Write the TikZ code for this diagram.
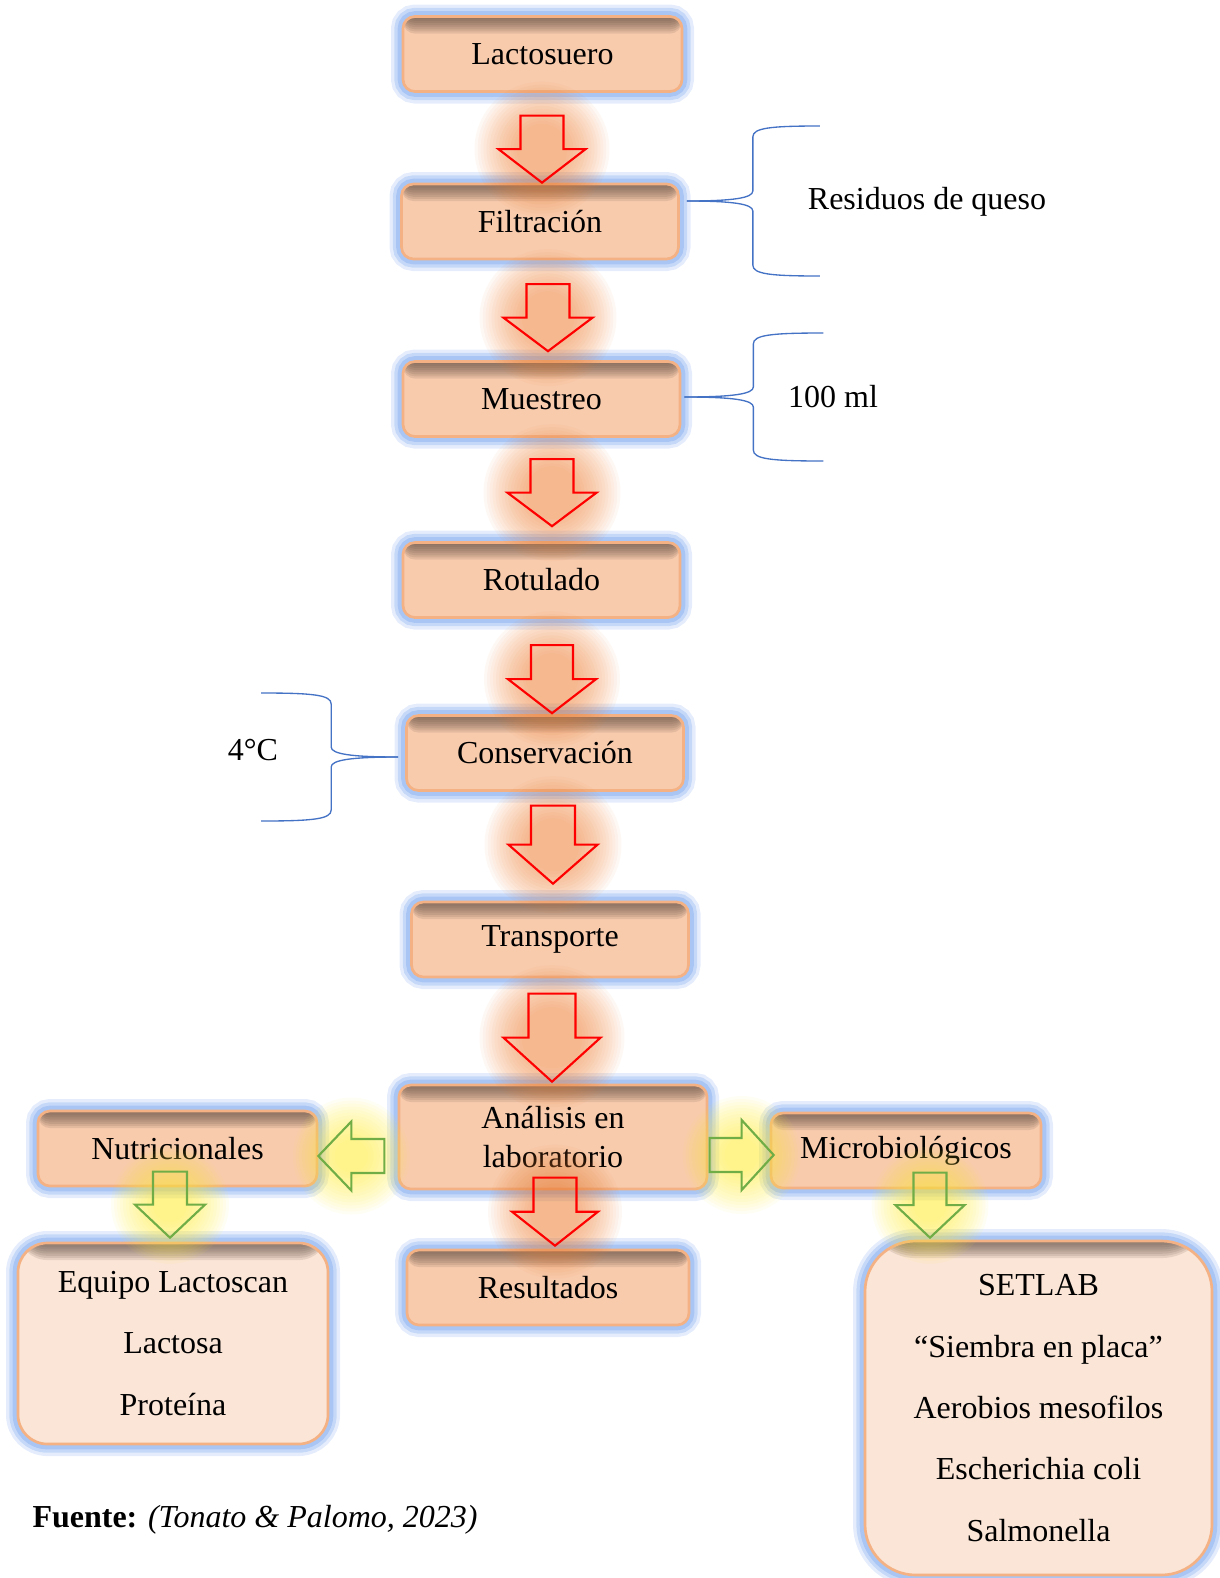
\documentclass[tikz,border=0pt]{standalone}
\usepackage{fontspec}
\setmainfont{Liberation Serif}
\usetikzlibrary{calc}

\definecolor{durazno}{HTML}{F8CBAD}
\definecolor{duraznoClaro}{HTML}{FBE5D6}
\definecolor{bordeNaranja}{HTML}{F4B183}
\definecolor{brilloAzul}{HTML}{96B8F2}
\definecolor{sombraCaja}{HTML}{5E4A40}
\definecolor{brilloNaranja}{HTML}{ED7D31}
\definecolor{brilloAmarillo}{HTML}{FFEB3C}
\definecolor{verdeFlecha}{HTML}{70AD47}
\definecolor{azulLlave}{HTML}{4472C4}

% one pixel of the layout
\def\px{0.375pt}

\tikzset{
  caja/.style={rectangle, rounded corners=4.5pt, draw=bordeNaranja, line width=1pt, fill=#1,
    minimum width=277*\px, minimum height=75*\px, inner sep=0pt, align=center,
    font=\fontsize{12}{14.4}\selectfont,
    preaction={draw=brilloAzul, line width=9pt, opacity=.25},
    preaction={draw=brilloAzul, line width=6.5pt, opacity=.4},
    preaction={draw=brilloAzul, line width=4pt, opacity=.6},
    path picture={\foreach \h in {1,...,8}
      \fill[sombraCaja, opacity=.13] (path picture bounding box.north west)
        rectangle ([yshift=-0.8*\h pt]path picture bounding box.north east);}},
  caja/.default=durazno,
  cajagrande/.style={caja=duraznoClaro, font=\fontsize{12}{23}\selectfont},
  roja/.style={draw=red, line width=.8pt, line join=miter},
  verde/.style={draw=verdeFlecha, line width=.8pt, line join=miter},
  brillo roja/.style={fill=brilloNaranja, opacity=.05},
  brillo verde/.style={fill=brilloAmarillo, opacity=.06},
  llave/.style={draw=azulLlave, line width=.5pt},
  texto/.style={font=\fontsize{12}{14.4}\selectfont}
}

% block arrow: style, start, tip, half width of body, half width of head (all in px)
\newcommand{\flecha}[5]{%
  \coordinate (fi) at (#2);
  \coordinate (fp) at (#3);
  \coordinate (fm) at ($(fi)!0.5!(fp)$);
  \foreach \k in {0,...,14}
    \fill[brillo #1] (fm) circle[radius={#5+24-3*\k}];
  \draw[#1] ($(fi)!#4*\px!90:(fp)$) -- ($(fm)!#4*\px!90:(fp)$) -- ($(fm)!#5*\px!90:(fp)$) -- (fp)
    -- ($(fm)!#5*\px!-90:(fp)$) -- ($(fm)!#4*\px!-90:(fp)$) -- ($(fi)!#4*\px!-90:(fp)$) -- cycle;
}

% curly brace: tip, spine offset, end height, end offset (px)
\newcommand{\llave}[4]{%
  \coordinate (ll) at (#1);
  \foreach \s in {1,-1}
    \draw[llave] (ll) .. controls ($(ll)+({0.7*#2},0)$) and ($(ll)+(#2,{-3*\s})$) .. ($(ll)+(#2,{-10*\s})$)
      -- ($(ll)+(#2,{\s*(11-#3)})$) .. controls ($(ll)+(#2,{\s*(2-#3)})$) and ($(ll)+({#2+0.25*(#4-#2)},{-#3*\s})$) .. ($(ll)+(#4,{-#3*\s})$);
}

\begin{document}
\begin{tikzpicture}[x=\px, y=-\px]
    \useasboundingbox (0,0) rectangle (1219,1578);

    % Process boxes
    \node[caja, minimum width=279*\px] (lac) at (542.5,54) {Lactosuero};
    \node[caja] (fil) at (540,221.5) {Filtración};
    \node[caja] (mue) at (541.5,399) {Muestreo};
    \node[caja] (rot) at (541.5,580) {Rotulado};
    \node[caja] (con) at (545,753) {Conservación};
    \node[caja] (tra) at (550,939.5) {Transporte};
    \node[caja, minimum width=308*\px, minimum height=104*\px] (ana) at (553,1137) {Análisis en\\laboratorio};
    \node[caja, minimum width=279*\px] (nut) at (177.5,1148.5) {Nutricionales};
    \node[caja, minimum width=270*\px] (mic) at (906,1150.5) {Microbiológicos};
    \node[caja, minimum width=282*\px] (res) at (548,1287.5) {Resultados};

    % Detail boxes
    \node[cajagrande, rounded corners=11pt, minimum width=310*\px, minimum height=201*\px] (equ) at (173,1343.5)
        {Equipo Lactoscan\\Lactosa\\Proteína};
    \node[cajagrande, rounded corners=19pt, minimum width=347*\px, minimum height=334*\px] (set) at (1038.5,1408)
        {SETLAB\\“Siembra en placa”\\Aerobios mesofilos\\Escherichia coli\\Salmonella};

    % Red arrows down the main line
    \flecha{roja}{$(fil.north)+(2,-67)$}{$(fil.north)+(2,0)$}{21.5}{43.5}
    \flecha{roja}{$(mue.north)+(6.5,-76)$}{$(mue.north)+(6.5,-9)$}{21.5}{44.5}
    \flecha{roja}{$(rot.north)+(10.5,-82)$}{$(rot.north)+(10.5,-15)$}{21.5}{44.5}
    \flecha{roja}{$(con.north)+(7,-69)$}{$(con.north)+(7,-1)$}{21}{44}
    \flecha{roja}{$(tra.north)+(3,-95)$}{$(tra.north)+(3,-17)$}{22}{44.5}
    \flecha{roja}{$(ana.north)+(-1,-90)$}{$(ana.north)+(-1,-2)$}{23.5}{48.5}
    \flecha{roja}{$(res.north)+(7,-71)$}{$(res.north)+(7,-3)$}{21.5}{43}

    % Green arrows to the analyses
    \flecha{verde}{$(nut.east)+(66,7.5)$}{$(nut.east)+(0,7.5)$}{17}{34.5}
    \flecha{verde}{$(mic.west)+(-60,4.5)$}{$(mic.west)+(4,4.5)$}{17}{35}
    \flecha{verde}{$(equ.north)+(-3,-70)$}{$(equ.north)+(-3,-4)$}{17}{35}
    \flecha{verde}{$(set.north)+(-108.5,-67)$}{$(set.north)+(-108.5,-2)$}{16.5}{34.5}

    % Braces and notes
    \llave{$(fil.east)+(7,-20.5)$}{66}{75}{133}
    \llave{$(mue.east)+(3,-2)$}{69}{64}{139}
    \llave{$(con.west)+(-7,4)$}{-67}{64}{-137}

    \node[texto] (residuos) at (927,202) {Residuos de queso};
    \node[texto] (muestra) at (833,397) {100 ml};
    \node[texto] (temp) at (253,750) {4°C};

    % Source
    \node[texto, anchor=base west, inner sep=0pt] (fuente) at (32,1527) {\textbf{Fuente:} \textit{(Tonato \& Palomo, 2023)}};
\end{tikzpicture}
\end{document}
